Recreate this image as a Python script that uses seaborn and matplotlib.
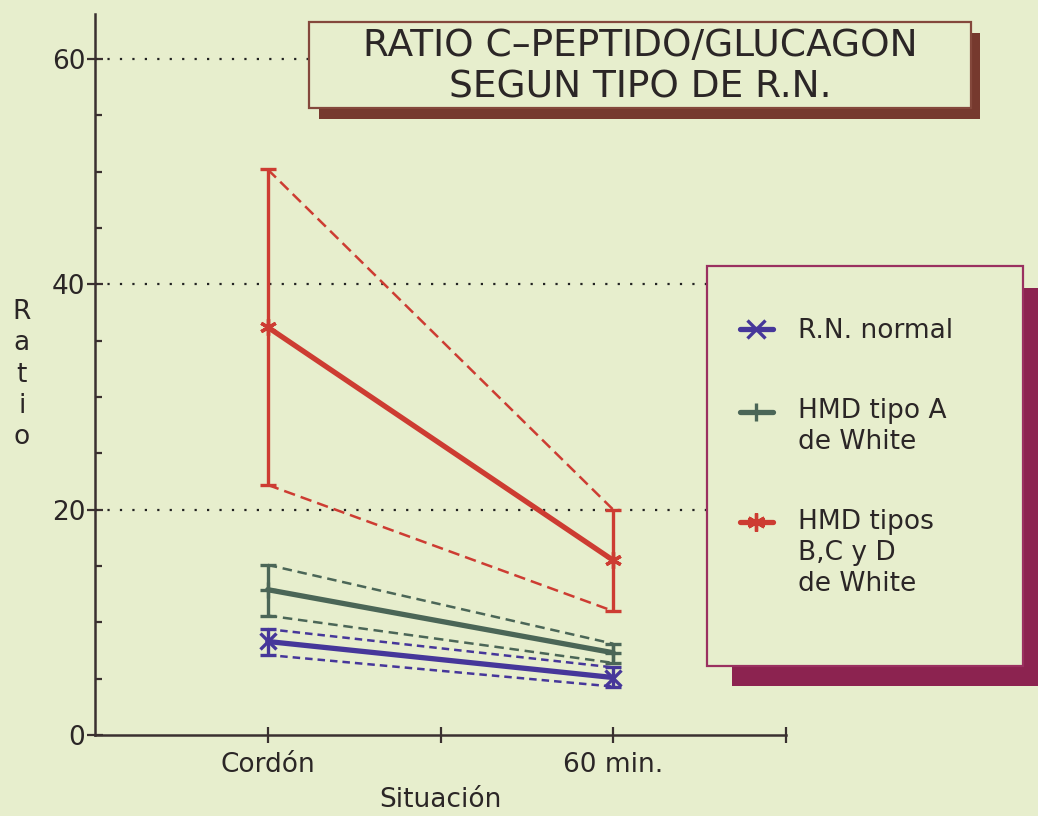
import matplotlib
matplotlib.use("Agg")
import matplotlib.pyplot as plt
from matplotlib.patches import Rectangle
from matplotlib.lines import Line2D
from matplotlib.legend_handler import HandlerLine2D
import pandas as pd
import seaborn as sns

# ---- data -------------------------------------------------------------
situaciones = ["Cordón", "60 min."]
posiciones = [1.0, 2.0]
grupos = ["R.N. normal", "HMD tipo A\nde White", "HMD tipos\nB,C y D\nde White"]

# mean ratio and upper / lower limits (Cordón, 60 min.) for each group
normal_media = [8.3, 5.1]
normal_sup = [9.4, 6.0]
normal_inf = [7.1, 4.3]

tipoA_media = [12.9, 7.3]
tipoA_sup = [15.1, 8.1]
tipoA_inf = [10.6, 6.4]

tipoBCD_media = [36.2, 15.5]
tipoBCD_sup = [50.2, 20.0]
tipoBCD_inf = [22.2, 11.0]

y_ticks = [0, 20, 40, 60]

# ---- long-form table -------------------------------------------------
filas = []
for g, med, sup, inf in zip(grupos,
                            [normal_media, tipoA_media, tipoBCD_media],
                            [normal_sup, tipoA_sup, tipoBCD_sup],
                            [normal_inf, tipoA_inf, tipoBCD_inf]):
    for s, p, m, hi, lo in zip(situaciones, posiciones, med, sup, inf):
        filas.append({"grupo": g, "situacion": s, "pos": p,
                      "media": m, "sup": hi, "inf": lo})
df = pd.DataFrame(filas)

# ---- style -------------------------------------------------------------
fondo = "#e7eecd"
tinta = "#2b2626"
colores = ["#46379a", "#4b6657", "#cd3c32"]
marcadores = ["x", "+", (6, 2, 0)]
guiones = [(0, (3.0, 2.0)), (0, (3.8, 2.3)), (0, (4.6, 2.4))]

sns.set_theme(style="ticks")
plt.rcParams["font.family"] = ["DejaVu Sans"]
plt.rcParams["text.color"] = tinta
plt.rcParams["axes.labelcolor"] = tinta
plt.rcParams["xtick.color"] = tinta
plt.rcParams["ytick.color"] = tinta

fig = plt.figure(figsize=(10.38, 8.16), dpi=100, facecolor=fondo)
ax = fig.add_axes([95 / 1038, 81 / 816, 691 / 1038, 721 / 816])
ax.set_facecolor(fondo)

# dotted reference lines
for v in [20, 40, 60]:
    ax.axhline(v, color="#222222", lw=1.6, linestyle=(0, (1, 4.6)), zorder=1)

for g, c, mk, ls in zip(grupos, colores, marcadores, guiones):
    d = df[df["grupo"] == g]
    sns.lineplot(data=d, x="pos", y="sup", color=c, lw=1.8, linestyle=ls,
                 ax=ax, legend=False, zorder=2)
    sns.lineplot(data=d, x="pos", y="inf", color=c, lw=1.8, linestyle=ls,
                 ax=ax, legend=False, zorder=2)
    ax.errorbar(d["pos"], d["media"],
                yerr=[d["media"] - d["inf"], d["sup"] - d["media"]],
                fmt="none", ecolor=c, elinewidth=2.4, capsize=6,
                capthick=2.4, zorder=3)
    sns.lineplot(data=d, x="pos", y="media", color=c, lw=3.8, marker=mk,
                 markersize=12, markeredgewidth=2.4, markeredgecolor=c,
                 ax=ax, legend=False, zorder=4)

# ---- axes ----------------------------------------------------------------
ax.set_xlim(0.5, 2.5)
ax.set_ylim(0, 64)
ax.set_xticks([1, 1.5, 2, 2.5])
ax.set_xticklabels([situaciones[0], "", situaciones[1], ""])
ax.set_yticks(y_ticks)
ax.set_yticks([5, 10, 15, 25, 30, 35, 45, 50, 55], minor=True)
ax.tick_params(axis="both", which="major", direction="inout", length=12,
               width=1.6, labelsize=19, color="#3a3030")
ax.tick_params(axis="y", which="major", pad=1)
ax.tick_params(axis="x", which="major", pad=6)
ax.tick_params(axis="y", which="minor", direction="in", length=5,
               width=1.6, color="#3a3030")
for side in ["top", "right"]:
    ax.spines[side].set_visible(False)
for side in ["left", "bottom"]:
    ax.spines[side].set_color("#3a3030")
    ax.spines[side].set_linewidth(1.8)

ax.set_xlabel("Situación", fontsize=19, labelpad=7)
ax.set_ylabel("R\na\nt\ni\no", fontsize=19, rotation=0, va="center",
              ha="center", linespacing=1.27)
ax.yaxis.set_label_coords(-0.106, 0.5)

# ---- title box -------------------------------------------------------------
W, H = 1038, 816
def caja(x0, y0, x1, y1, **kw):
    return Rectangle((x0 / W, 1 - y1 / H), (x1 - x0) / W, (y1 - y0) / H,
                     transform=fig.transFigure, **kw)

fig.patches.append(caja(319, 33, 980, 119, facecolor="#76392e",
                        edgecolor="none", zorder=5))
fig.patches.append(caja(309, 22, 971, 108, facecolor=fondo,
                        edgecolor="#84483c", lw=1.6, zorder=6))
fig.text(640 / W, 1 - 67 / H, "RATIO C\u2013PEPTIDO/GLUCAGON\nSEGUN TIPO DE R.N.",
         ha="center", va="center", fontsize=27, linespacing=1.18,
         color=tinta, zorder=7)

# ---- legend box ------------------------------------------------------------
fig.patches.append(caja(732, 288, 1060, 686, facecolor="#8c2350",
                        edgecolor="none", zorder=5))
fig.patches.append(caja(707, 266, 1023, 666, facecolor=fondo,
                        edgecolor="#9a3060", lw=1.6, zorder=6))


class HandlerPrimeraLinea(HandlerLine2D):
    """Line handle raised to sit beside the first line of its label."""

    def __init__(self, desplazamiento, **kw):
        super().__init__(**kw)
        self.desplazamiento = desplazamiento

    def create_artists(self, legend, orig_handle, xdescent, ydescent,
                       width, height, fontsize, trans):
        artistas = super().create_artists(legend, orig_handle, xdescent,
                                          ydescent, width, height,
                                          fontsize, trans)
        for a in artistas:
            a.set_ydata([y + self.desplazamiento for y in a.get_ydata()])
        return artistas


paso_linea = 22.4  # points between label lines
handles = [Line2D([], [], color=c, lw=3.8, marker=mk, markersize=13,
                  markeredgewidth=2.4, markeredgecolor=c)
           for c, mk in zip(colores, marcadores)]
mapa = {h: HandlerPrimeraLinea(0.5 * (g.count("\n")) * paso_linea)
        for h, g in zip(handles, grupos)}
leg = fig.legend(handles, grupos, loc="upper left",
                 bbox_to_anchor=(740 / W, 1 - 318 / H),
                 bbox_transform=fig.transFigure, frameon=False,
                 fontsize=19, handlelength=1.25, handletextpad=0.95,
                 labelspacing=2.05, borderpad=0, borderaxespad=0,
                 handler_map=mapa)
for t in leg.get_texts():
    t.set_linespacing(1.24)
leg.set_zorder(8)

fig.savefig("out.png", dpi=100, facecolor=fondo)
